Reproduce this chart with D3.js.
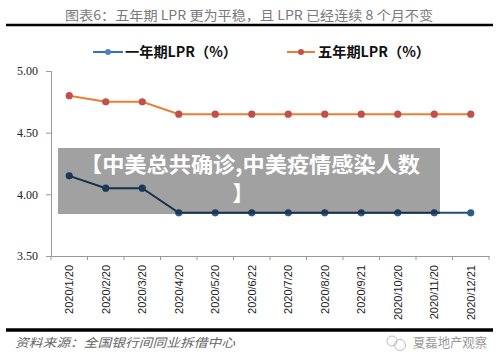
<!DOCTYPE html>
<html><head><meta charset="utf-8">
<script src="https://cdn.jsdelivr.net/npm/d3@7"></script>
<style>body{margin:0;background:#fff}svg{display:block}</style>
</head><body>
<script>
const categories = ["2020/1/20","2020/2/20","2020/3/20","2020/4/20","2020/5/20","2020/6/22","2020/7/20","2020/8/20","2020/9/21","2020/10/20","2020/11/20","2020/12/21"];
const oneYear = [4.15,4.05,4.05,3.85,3.85,3.85,3.85,3.85,3.85,3.85,3.85,3.85];
const fiveYear = [4.80,4.75,4.75,4.65,4.65,4.65,4.65,4.65,4.65,4.65,4.65,4.65];
const yTicks = [3.50,4.00,4.50,5.00];
const seriesNames = ["一年期LPR（%）","五年期LPR（%）"];
const title = "图表6：五年期 LPR 更为平稳，且 LPR 已经连续 8 个月不变";
const source = "资料来源：全国银行间同业拆借中心";
const watermark = "夏磊地产观察";
const overlayLines = ["【中美总共确诊,中美疫情感染人数","】"];

const W=500,H=363;
const svg=d3.select("body").append("svg").attr("width",W).attr("height",H);
const x=d3.scaleBand().domain(categories).range([51,489]);
const y=d3.scaleLinear().domain([3.5,5.0]).range([256,71]);

// title
svg.append("text").attr("x",65).attr("y",20).attr("textLength",368).attr("lengthAdjust","spacingAndGlyphs")
  .style("font-family","'Noto Sans CJK SC'").style("font-size","13px").style("fill","#7a7a7a").text(title);
svg.append("line").attr("x1",6).attr("x2",493).attr("y1",25).attr("y2",25).attr("stroke","#000").attr("stroke-width",2.5);
svg.append("line").attr("x1",6).attr("x2",493).attr("y1",330).attr("y2",330).attr("stroke","#000").attr("stroke-width",3.5);

// axes
const ya=svg.append("g").attr("transform","translate(51,0)").call(d3.axisLeft(y).tickValues(yTicks).tickFormat(d3.format(".2f")).tickSize(5).tickPadding(8));
ya.select(".domain").attr("stroke","#999");
ya.selectAll(".tick line").attr("stroke","#999");
ya.selectAll("text").style("font-family","'Liberation Serif'").style("font-size","12px").style("fill","#222");

const xa=svg.append("g").attr("transform","translate(0,256)").call(d3.axisBottom(x).tickSize(0).tickSizeOuter(0));
xa.select(".domain").attr("stroke","#999");
// boundary ticks
const bounds=categories.map(c=>x(c)).concat([x.range()[1]]);
svg.append("g").selectAll("line").data(bounds).join("line")
  .attr("x1",d=>d).attr("x2",d=>d).attr("y1",256).attr("y2",260).attr("stroke","#999");
xa.selectAll("text").attr("transform","rotate(-90)").attr("text-anchor","end")
  .attr("x",-9).attr("y",0).attr("dy","0.35em")
  .style("font-family","'Liberation Sans'").style("font-size","11px").style("fill","#222");

// series
const cx=c=>x(c)+x.bandwidth()/2;
function series(vals,lineColor,dotColor){
  const data=categories.map((c,i)=>({c,v:vals[i]}));
  svg.append("path").datum(data).attr("fill","none").attr("stroke",lineColor).attr("stroke-width",2)
    .attr("d",d3.line().x(d=>cx(d.c)).y(d=>y(d.v)));
  svg.append("g").selectAll("circle").data(data).join("circle")
    .attr("cx",d=>cx(d.c)).attr("cy",d=>y(d.v)).attr("r",3.6).attr("fill",dotColor);
}
series(fiveYear,"#ed7d31","#c0504d");
series(oneYear,"#1f4e79","#2e5a8a");

// legend
const leg=[{x1:93,x2:123,tx:125,lc:"#2e75b6",dc:"#4f81bd"},{x1:287,x2:315,tx:318,lc:"#ed7d31",dc:"#c0504d"}];
leg.forEach((l,i)=>{
  svg.append("line").attr("x1",l.x1).attr("x2",l.x2).attr("y1",52).attr("y2",52).attr("stroke",l.lc).attr("stroke-width",2);
  svg.append("circle").attr("cx",(l.x1+l.x2)/2).attr("cy",52).attr("r",3).attr("fill",l.dc);
  svg.append("text").attr("x",l.tx).attr("y",57).attr("textLength",112).attr("lengthAdjust","spacingAndGlyphs")
    .style("font-family","'Noto Sans CJK SC'").style("font-weight","bold").style("font-size","14px").style("fill","#111").text(seriesNames[i]);
});

// source
svg.append("text").attr("x",15).attr("y",347).attr("textLength",220).attr("lengthAdjust","spacingAndGlyphs")
  .style("font-family","'Noto Sans CJK SC'").style("font-style","italic").style("font-size","12px").style("fill","#666")
  .text(source);
// watermark
const wm=svg.append("g");
wm.append("circle").attr("cx",392).attr("cy",341).attr("r",5).attr("fill","none").attr("stroke","#bbb");
wm.append("circle").attr("cx",400).attr("cy",345).attr("r",5.5).attr("fill","none").attr("stroke","#bbb");
wm.append("text").attr("x",413).attr("y",347).attr("textLength",74).attr("lengthAdjust","spacingAndGlyphs")
  .style("font-family","'Noto Sans CJK SC'").style("font-size","13px").style("fill","#999").text(watermark);

// overlay
svg.append("rect").attr("x",58).attr("y",148).attr("width",382).attr("height",66).attr("fill","rgba(0,0,0,0.37)");
svg.append("text").attr("x",80).attr("y",172).attr("textLength",340).attr("lengthAdjust","spacingAndGlyphs")
  .style("font-family","'Noto Sans CJK SC'").style("font-weight","bold").style("font-size","21px").style("fill","#fff").text(overlayLines[0]);
svg.append("text").attr("x",243).attr("y",201).attr("text-anchor","middle")
  .style("font-family","'Noto Sans CJK SC'").style("font-weight","bold").style("font-size","21px").style("fill","#fff").text(overlayLines[1]);
</script>
</body></html>
